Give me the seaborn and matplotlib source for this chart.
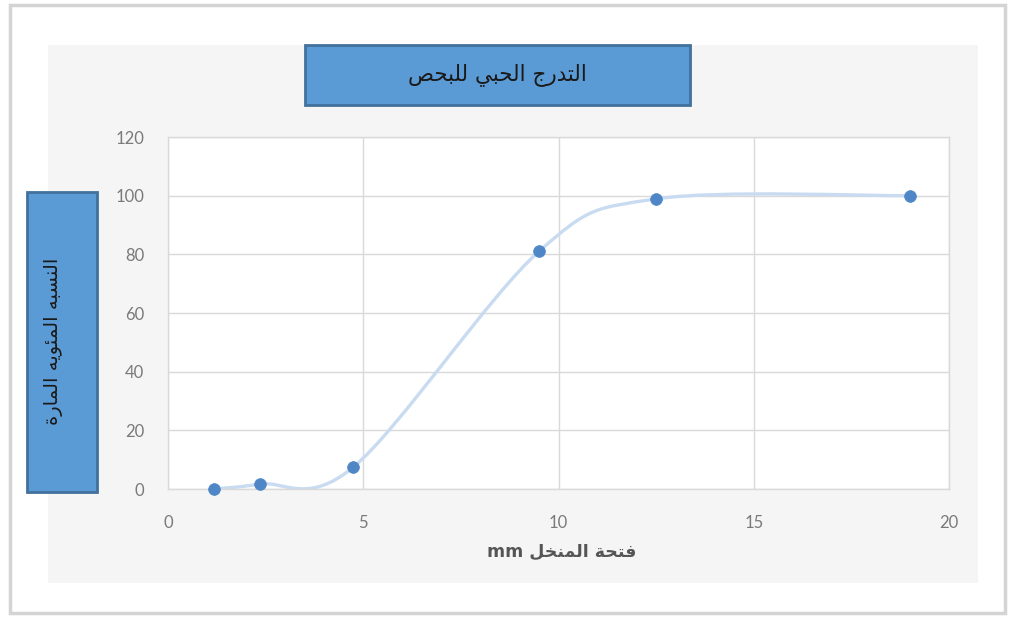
import numpy as np
import pandas as pd
import matplotlib
matplotlib.use("Agg")
import matplotlib.pyplot as plt
from matplotlib.patches import Rectangle, PathPatch
from matplotlib.path import Path
import seaborn as sns

# ---------------- data ----------------
sieve_mm = [1.18, 2.36, 4.75, 9.5, 12.5, 19]
passing_pct = [0, 1.7, 7.5, 81, 98.9, 100]
x_ticks = [0, 5, 10, 15, 20]
y_ticks = [0, 20, 40, 60, 80, 100, 120]
title_text = "التدرج الحبي للبحص"
ylabel_text = "النسبه المئويه المارة"
xlabel_text = "فتحة المنخل mm"

# ---------------- minimal Arabic shaping ----------------
FORMS = {
    'ا': (0xFE8D, 0xFE8E), 'أ': (0xFE83, 0xFE84), 'إ': (0xFE87, 0xFE88), 'آ': (0xFE81, 0xFE82),
    'ب': (0xFE8F, 0xFE90, 0xFE91, 0xFE92), 'ة': (0xFE93, 0xFE94),
    'ت': (0xFE95, 0xFE96, 0xFE97, 0xFE98), 'ث': (0xFE99, 0xFE9A, 0xFE9B, 0xFE9C),
    'ج': (0xFE9D, 0xFE9E, 0xFE9F, 0xFEA0), 'ح': (0xFEA1, 0xFEA2, 0xFEA3, 0xFEA4),
    'خ': (0xFEA5, 0xFEA6, 0xFEA7, 0xFEA8), 'د': (0xFEA9, 0xFEAA), 'ذ': (0xFEAB, 0xFEAC),
    'ر': (0xFEAD, 0xFEAE), 'ز': (0xFEAF, 0xFEB0),
    'س': (0xFEB1, 0xFEB2, 0xFEB3, 0xFEB4), 'ش': (0xFEB5, 0xFEB6, 0xFEB7, 0xFEB8),
    'ص': (0xFEB9, 0xFEBA, 0xFEBB, 0xFEBC), 'ض': (0xFEBD, 0xFEBE, 0xFEBF, 0xFEC0),
    'ط': (0xFEC1, 0xFEC2, 0xFEC3, 0xFEC4), 'ظ': (0xFEC5, 0xFEC6, 0xFEC7, 0xFEC8),
    'ع': (0xFEC9, 0xFECA, 0xFECB, 0xFECC), 'غ': (0xFECD, 0xFECE, 0xFECF, 0xFED0),
    'ف': (0xFED1, 0xFED2, 0xFED3, 0xFED4), 'ق': (0xFED5, 0xFED6, 0xFED7, 0xFED8),
    'ك': (0xFED9, 0xFEDA, 0xFEDB, 0xFEDC), 'ل': (0xFEDD, 0xFEDE, 0xFEDF, 0xFEE0),
    'م': (0xFEE1, 0xFEE2, 0xFEE3, 0xFEE4), 'ن': (0xFEE5, 0xFEE6, 0xFEE7, 0xFEE8),
    'ه': (0xFEE9, 0xFEEA, 0xFEEB, 0xFEEC), 'و': (0xFEED, 0xFEEE), 'ؤ': (0xFE85, 0xFE86),
    'ى': (0xFEEF, 0xFEF0), 'ي': (0xFEF1, 0xFEF2, 0xFEF3, 0xFEF4),
    'ئ': (0xFE89, 0xFE8A, 0xFE8B, 0xFE8C),
}


def _is_ar(ch):
    return ch in FORMS


def _shape_word(w):
    out = []
    n = len(w)
    for i, ch in enumerate(w):
        if ch not in FORMS:
            out.append(ch)
            continue
        f = FORMS[ch]
        prev_c = i > 0 and w[i - 1] in FORMS and len(FORMS[w[i - 1]]) == 4
        next_c = i < n - 1 and len(f) == 4 and w[i + 1] in FORMS
        if prev_c and next_c:
            out.append(chr(f[3]))
        elif prev_c:
            out.append(chr(f[1]))
        elif next_c:
            out.append(chr(f[2]))
        else:
            out.append(chr(f[0]))
    return "".join(out)


def rtl(text):
    words = text.split(" ")
    vis = []
    for w in reversed(words):
        if any(_is_ar(c) for c in w):
            vis.append(_shape_word(w)[::-1])
        else:
            vis.append(w)
    return " ".join(vis)


# ---------------- style ----------------
sns.set_style("white")
plt.rcParams["font.family"] = ["Lato", "DejaVu Sans"]

W, H = 1012, 620
fig = plt.figure(figsize=(W / 100, H / 100), dpi=100)
fig.patch.set_facecolor("white")


def fx(px):
    return px / W


def fy(py):
    return 1 - py / H


# outer frame and inner panel (behind the axes)
fig.add_artist(Rectangle((fx(10), fy(613)), fx(995), 608 / H, transform=fig.transFigure,
                         facecolor="white", edgecolor="#d4d4d4", lw=2.5, zorder=-3))
fig.add_artist(Rectangle((fx(48), fy(583)), fx(930), 538 / H, transform=fig.transFigure,
                         facecolor="#f5f5f5", edgecolor="none", zorder=-2))

ax = fig.add_axes([fx(168), fy(489), fx(949 - 168), (489 - 137) / H])
ax.set_zorder(1)
ax.set_facecolor("white")

df = pd.DataFrame({"sieve": sieve_mm, "passing": passing_pct})

# smooth (Excel-like) curve through the data points
xs = np.array(sieve_mm, dtype=float)
ys = np.array(passing_pct, dtype=float)
P = np.column_stack([xs, ys])
verts = [tuple(P[0])]
codes = [Path.MOVETO]
for i in range(len(P) - 1):
    p0 = P[i - 1] if i > 0 else P[i]
    p1 = P[i]
    p2 = P[i + 1]
    p3 = P[i + 2] if i + 2 < len(P) else P[i + 1]
    c1 = p1 + (p2 - p0) / 6.0
    c2 = p2 - (p3 - p1) / 6.0
    verts += [tuple(c1), tuple(c2), tuple(p2)]
    codes += [Path.CURVE4] * 3
ax.add_patch(PathPatch(Path(verts, codes), facecolor="none", edgecolor="#c8dbf0",
                       lw=2.4, zorder=2, capstyle="round"))

sns.scatterplot(data=df, x="sieve", y="passing", ax=ax, s=72, color="#4f86c6",
                edgecolor="#4f86c6", linewidth=0.5, zorder=3, legend=False, clip_on=False)

ax.set_xlim(0, 20)
ax.set_ylim(0, 120)
ax.set_xticks(x_ticks)
ax.set_yticks(y_ticks)
ax.set_xticklabels([str(v) for v in x_ticks])
ax.set_yticklabels([str(v) for v in y_ticks])
ax.grid(True, color="#d9d9d9", lw=1.0)
for s in ax.spines.values():
    s.set_color("#d9d9d9")
    s.set_linewidth(1.0)
ax.tick_params(axis="both", length=0, labelsize=12, labelcolor="#7a7a7a")
ax.tick_params(axis="x", pad=19)
ax.tick_params(axis="y", pad=17)
ax.set_xlabel("")
ax.set_ylabel("")

# x-axis title
fig.text(fx(562), fy(552), rtl(xlabel_text), ha="center", va="center",
         fontsize=12.5, color="#555555", fontweight="bold", family=["DejaVu Sans"])

# title box
fig.add_artist(Rectangle((fx(305), fy(105)), fx(385), 60 / H, transform=fig.transFigure,
                         facecolor="#5b9bd5", edgecolor="#41719c", lw=2, zorder=5))
fig.text(fx(497), fy(75), rtl(title_text), ha="center", va="center",
         fontsize=15.5, color="#1a1a1a", family=["DejaVu Sans"], zorder=6)

# y-axis title box
fig.add_artist(Rectangle((fx(27), fy(492)), fx(70), 300 / H, transform=fig.transFigure,
                         facecolor="#5b9bd5", edgecolor="#41719c", lw=2, zorder=5))
fig.text(fx(54), fy(341), rtl(ylabel_text), ha="center", va="center", rotation=90,
         fontsize=14, color="#1a1a1a", family=["DejaVu Sans"], zorder=6)

fig.savefig("out.png", dpi=100)
